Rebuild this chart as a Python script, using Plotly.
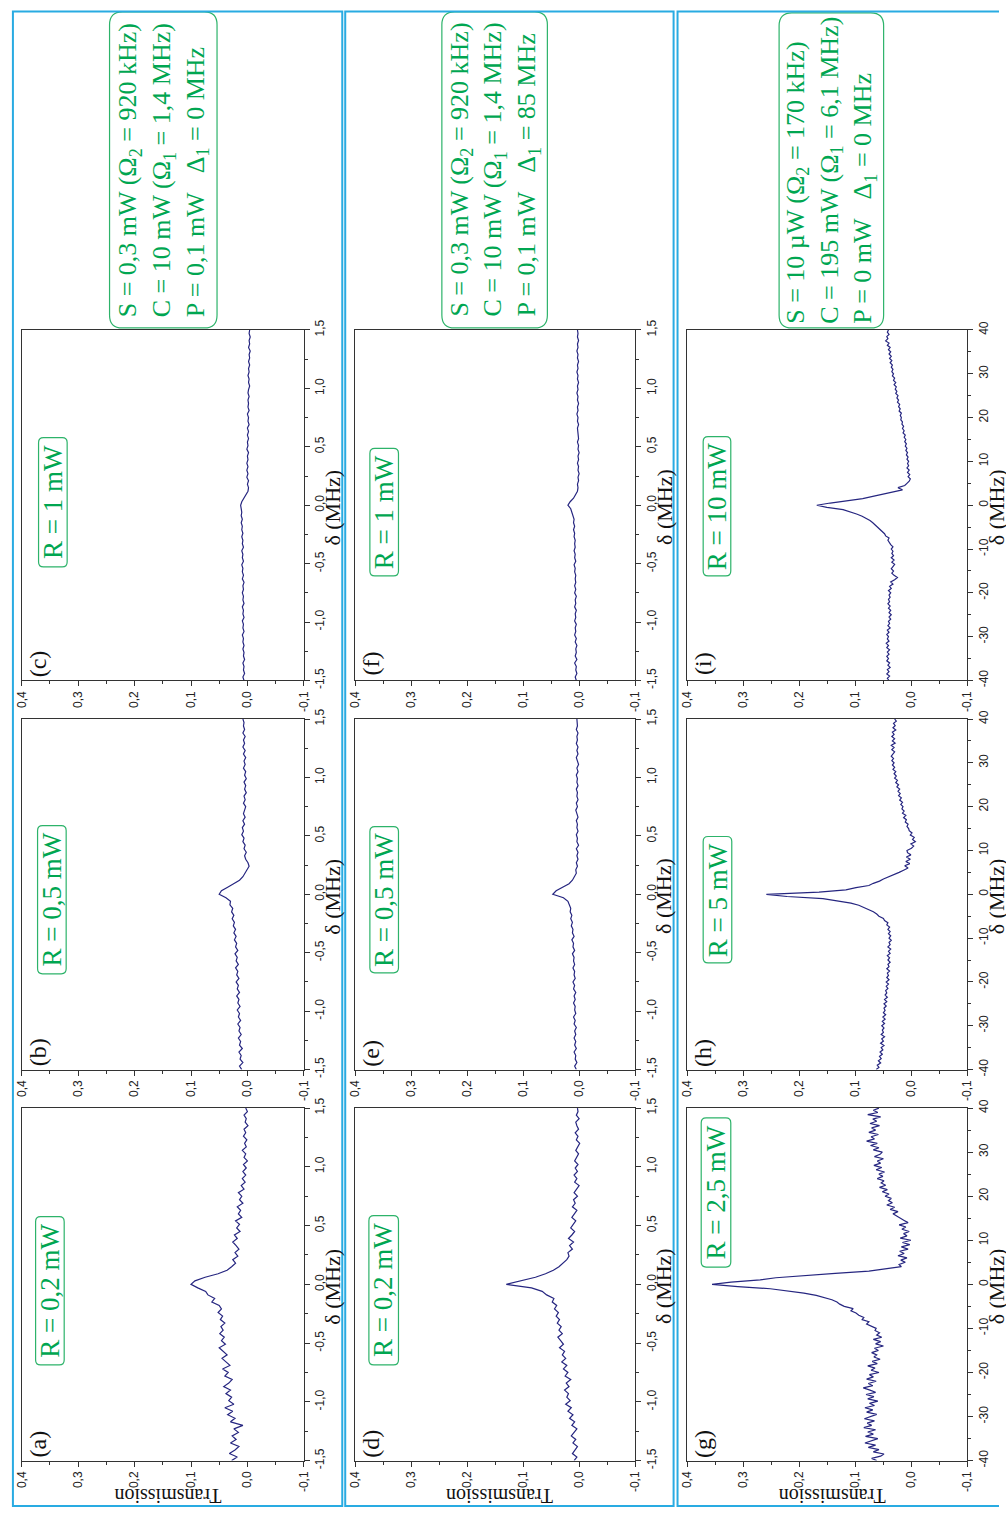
import plotly.graph_objects as go

W, H = 1006, 1517

# ---------------- data ----------------
# detuning grids (MHz): panels a-f use a 0.03 MHz step, panels g-i a 0.5 MHz step
delta_narrow = [round(-1.5 + 0.03 * i, 2) for i in range(101)]
delta_wide = [round(-40 + 0.5 * i, 1) for i in range(161)]

trans_a = [0.028, 0.018, 0.032, 0.022, 0.015, 0.030, 0.020, 0.027, 0.016, 0.024,
           0.008, 0.030, 0.022, 0.035, 0.026, 0.040, 0.024, 0.033, 0.028, 0.038,
           0.030, 0.042, 0.033, 0.027, 0.040, 0.034, 0.044, 0.031, 0.038, 0.045,
           0.036, 0.043, 0.050, 0.039, 0.046, 0.041, 0.049, 0.043, 0.047, 0.040,
           0.048, 0.044, 0.052, 0.046, 0.050, 0.063, 0.058, 0.070, 0.074, 0.088,
           0.100,
           0.093, 0.075, 0.052, 0.036, 0.028, 0.021, 0.026, 0.017, 0.022, 0.015,
           0.020, 0.026, 0.018, 0.023, 0.013, 0.019, 0.014, 0.021, 0.010, 0.016,
           0.012, 0.018, 0.008, 0.014, 0.010, 0.016, 0.006, 0.011, 0.004, 0.009,
           0.003, 0.008, 0.002, 0.007, 0.000, 0.006, 0.003, 0.009, 0.002, 0.005,
           0.001, 0.007, 0.003, 0.006, -0.001, 0.004, 0.002, 0.006, 0.000, 0.003]

trans_b = [0.010, 0.014, 0.008, 0.013, 0.011, 0.015, 0.009, 0.014, 0.012, 0.016,
           0.011, 0.015, 0.013, 0.017, 0.012, 0.016, 0.014, 0.018, 0.013, 0.017,
           0.015, 0.019, 0.014, 0.018, 0.016, 0.020, 0.015, 0.019, 0.017, 0.021,
           0.016, 0.020, 0.018, 0.022, 0.017, 0.021, 0.019, 0.023, 0.020, 0.024,
           0.021, 0.025, 0.023, 0.027, 0.024, 0.028, 0.026, 0.031, 0.030, 0.038,
           0.050,
           0.046, 0.035, 0.024, 0.014, 0.008, 0.004, 0.000, -0.003, -0.001, 0.003,
           0.005, 0.002, 0.006, 0.004, 0.008, 0.006, 0.010, 0.007, 0.009, 0.005,
           0.008, 0.004, 0.007, 0.005, 0.003, 0.007, 0.004, 0.006, 0.002, 0.005,
           0.003, 0.006, 0.002, 0.005, 0.003, 0.007, 0.004, 0.006, 0.003, 0.007,
           0.004, 0.008, 0.005, 0.007, 0.004, 0.008, 0.005, 0.007, 0.006, 0.008]

trans_c = [0.006, 0.008, 0.005, 0.007, 0.006, 0.008, 0.005, 0.007, 0.006, 0.008,
           0.006, 0.008, 0.007, 0.009, 0.006, 0.008, 0.007, 0.009, 0.006, 0.008,
           0.007, 0.009, 0.006, 0.008, 0.007, 0.009, 0.007, 0.008, 0.006, 0.009,
           0.007, 0.009, 0.008, 0.010, 0.007, 0.009, 0.008, 0.010, 0.007, 0.009,
           0.008, 0.010, 0.008, 0.010, 0.009, 0.011, 0.009, 0.011, 0.010, 0.011,
           0.012,
           0.010, 0.006, 0.002, -0.001, -0.002, 0.000, -0.002, 0.001, -0.001, 0.001,
           -0.001, 0.001, -0.001, 0.000, -0.002, 0.001, -0.001, 0.000, -0.002, 0.000,
           -0.002, 0.000, -0.003, -0.001, -0.002, 0.000, -0.003, -0.001, -0.002, -0.001,
           -0.003, -0.001, -0.002, -0.004, -0.002, -0.003, -0.001, -0.003, -0.002, -0.004,
           -0.002, -0.004, -0.003, -0.005, -0.002, -0.004, -0.003, -0.005, -0.003, -0.004]

trans_d = [0.009, 0.004, 0.012, 0.007, 0.003, 0.011, 0.006, 0.014, 0.009, 0.004,
           0.013, 0.008, 0.017, 0.011, 0.020, 0.014, 0.024, 0.016, 0.022, 0.019,
           0.026, 0.018, 0.023, 0.015, 0.025, 0.020, 0.028, 0.022, 0.031, 0.024,
           0.030, 0.026, 0.035, 0.028, 0.033, 0.038, 0.030, 0.036, 0.032, 0.039,
           0.035, 0.041, 0.037, 0.044, 0.040, 0.048, 0.045, 0.058, 0.066, 0.085,
           0.130,
           0.105, 0.078, 0.060, 0.046, 0.036, 0.029, 0.022, 0.018, 0.020, 0.012,
           0.017, 0.010, 0.019, 0.013, 0.008, 0.015, 0.011, 0.006, 0.013, 0.009,
           0.004, 0.012, 0.007, 0.010, 0.003, 0.009, 0.005, 0.000, 0.008, 0.004,
           0.009, 0.003, 0.007, 0.002, 0.008, 0.004, 0.001, 0.006, 0.003, -0.001,
           0.005, 0.002, 0.007, 0.001, 0.004, 0.006, 0.000, 0.005, 0.002, 0.003]

trans_e = [0.005, 0.008, 0.004, 0.007, 0.006, 0.009, 0.005, 0.008, 0.006, 0.009,
           0.006, 0.008, 0.005, 0.009, 0.007, 0.010, 0.006, 0.008, 0.007, 0.010,
           0.007, 0.009, 0.006, 0.010, 0.008, 0.011, 0.007, 0.009, 0.008, 0.011,
           0.008, 0.010, 0.009, 0.012, 0.008, 0.011, 0.010, 0.013, 0.009, 0.012,
           0.011, 0.014, 0.012, 0.015, 0.013, 0.016, 0.015, 0.018, 0.020, 0.028,
           0.047,
           0.041, 0.028, 0.018, 0.012, 0.008, 0.005, 0.006, 0.003, 0.005, 0.002,
           0.004, 0.002, 0.005, 0.001, 0.004, 0.003, 0.005, 0.002, 0.004, 0.003,
           0.005, 0.002, 0.004, 0.006, 0.003, 0.005, 0.002, 0.004, 0.003, 0.005,
           0.002, 0.004, 0.003, 0.005, 0.002, 0.004, 0.001, 0.003, 0.005, 0.002,
           0.004, 0.002, 0.005, 0.003, 0.004, 0.002, 0.005, 0.003, 0.004, 0.004]

trans_f = [0.005, 0.007, 0.004, 0.006, 0.005, 0.008, 0.004, 0.007, 0.005, 0.006,
           0.004, 0.007, 0.005, 0.008, 0.006, 0.007, 0.005, 0.008, 0.006, 0.007,
           0.005, 0.008, 0.006, 0.007, 0.005, 0.008, 0.006, 0.008, 0.006, 0.007,
           0.006, 0.008, 0.007, 0.009, 0.006, 0.008, 0.007, 0.009, 0.007, 0.008,
           0.007, 0.009, 0.008, 0.010, 0.008, 0.010, 0.009, 0.011, 0.012, 0.015,
           0.020,
           0.016, 0.010, 0.006, 0.003, 0.002, 0.003, 0.001, 0.002, 0.000, 0.002,
           0.001, 0.003, 0.001, 0.002, 0.000, 0.002, 0.001, 0.003, 0.001, 0.002,
           0.002, 0.003, 0.001, 0.003, 0.002, 0.004, 0.002, 0.003, 0.001, 0.003,
           0.002, 0.004, 0.002, 0.003, 0.001, 0.003, 0.002, 0.004, 0.002, 0.003,
           0.001, 0.003, 0.002, 0.004, 0.002, 0.003, 0.001, 0.003, 0.002, 0.003]

trans_g = [0.062, 0.071, 0.055, 0.049, 0.068, 0.058, 0.077, 0.064, 0.083, 0.070,
           0.060, 0.082, 0.068, 0.078, 0.064, 0.085, 0.071, 0.079, 0.066, 0.084,
           0.073, 0.062, 0.080, 0.069, 0.083, 0.066, 0.075, 0.060, 0.078, 0.067,
           0.081, 0.064, 0.074, 0.086, 0.069, 0.077, 0.063, 0.080, 0.068, 0.075,
           0.058, 0.072, 0.065, 0.078, 0.061, 0.070, 0.056, 0.067, 0.062, 0.071,
           0.059, 0.066, 0.050, 0.064, 0.055, 0.068, 0.053, 0.062, 0.057, 0.065,
           0.063, 0.072, 0.080, 0.076, 0.088, 0.085, 0.094, 0.099, 0.108, 0.104,
           0.120, 0.128, 0.133, 0.142, 0.156, 0.170, 0.192, 0.220, 0.252, 0.310,
           0.356,
           0.322, 0.270, 0.242, 0.195, 0.136, 0.076, 0.046, 0.018, 0.022, 0.011,
           0.019, 0.008, 0.024, 0.013, 0.021, 0.006, 0.018, 0.003, 0.016, 0.001,
           0.020, 0.008, 0.014, 0.004, 0.017, 0.010, 0.022, 0.006, 0.013, 0.020,
           0.027, 0.033, 0.024, 0.038, 0.030, 0.044, 0.034, 0.041, 0.036, 0.047,
           0.040, 0.052, 0.043, 0.057, 0.046, 0.054, 0.049, 0.061, 0.051, 0.058,
           0.048, 0.063, 0.053, 0.067, 0.055, 0.061, 0.050, 0.066, 0.056, 0.052,
           0.068, 0.058, 0.073, 0.061, 0.080, 0.066, 0.072, 0.059, 0.076, 0.064,
           0.071, 0.057, 0.074, 0.062, 0.069, 0.055, 0.078, 0.060, 0.068, 0.058]

trans_h = [0.063, 0.058, 0.061, 0.055, 0.059, 0.054, 0.057, 0.052, 0.056, 0.051,
           0.054, 0.049, 0.055, 0.050, 0.053, 0.048, 0.054, 0.050, 0.052, 0.049,
           0.053, 0.048, 0.052, 0.047, 0.051, 0.046, 0.050, 0.047, 0.049, 0.045,
           0.049, 0.044, 0.048, 0.043, 0.047, 0.044, 0.046, 0.042, 0.045, 0.041,
           0.045, 0.040, 0.044, 0.041, 0.043, 0.039, 0.044, 0.040, 0.042, 0.038,
           0.042, 0.039, 0.043, 0.038, 0.041, 0.037, 0.042, 0.038, 0.040, 0.036,
           0.040, 0.037, 0.041, 0.038, 0.042, 0.039, 0.044, 0.042, 0.048, 0.050,
           0.058, 0.062, 0.068, 0.076, 0.084, 0.094, 0.108, 0.134, 0.158, 0.222,
           0.259,
           0.165, 0.117, 0.099, 0.076, 0.068, 0.057, 0.050, 0.040, 0.031, 0.022,
           0.014, 0.006, 0.012, 0.003, 0.010, 0.002, 0.009, 0.001, 0.007, 0.008,
           0.000, -0.004, 0.001, -0.007, -0.002, -0.005, 0.002, -0.001, 0.004, 0.005,
           0.008, 0.006, 0.011, 0.009, 0.014, 0.010, 0.016, 0.013, 0.017, 0.015,
           0.019, 0.016, 0.021, 0.018, 0.023, 0.020, 0.024, 0.021, 0.026, 0.023,
           0.028, 0.025, 0.030, 0.027, 0.031, 0.028, 0.033, 0.030, 0.034, 0.031,
           0.035, 0.032, 0.036, 0.033, 0.030, 0.035, 0.031, 0.036, 0.029, 0.034,
           0.030, 0.035, 0.031, 0.034, 0.028, 0.033, 0.029, 0.032, 0.027, 0.030]

trans_i = [0.040, 0.043, 0.039, 0.044, 0.040, 0.043, 0.038, 0.042, 0.039, 0.044,
           0.041, 0.044, 0.040, 0.043, 0.039, 0.044, 0.041, 0.045, 0.040, 0.043,
           0.041, 0.044, 0.040, 0.043, 0.038, 0.042, 0.039, 0.041, 0.037, 0.040,
           0.036, 0.040, 0.037, 0.041, 0.038, 0.042, 0.039, 0.041, 0.038, 0.040,
           0.037, 0.041, 0.036, 0.039, 0.033, 0.037, 0.030, 0.025, 0.031, 0.035,
           0.032, 0.036, 0.033, 0.030, 0.035, 0.031, 0.036, 0.032, 0.035, 0.033,
           0.036, 0.033, 0.037, 0.039, 0.042, 0.040, 0.046, 0.048, 0.052, 0.056,
           0.060, 0.064, 0.069, 0.074, 0.081, 0.088, 0.098, 0.110, 0.122, 0.151,
           0.169,
           0.145, 0.116, 0.087, 0.069, 0.052, 0.034, 0.016, 0.024, 0.012, 0.008,
           0.004, 0.002, 0.006, 0.003, 0.007, 0.004, 0.008, 0.005, 0.007, 0.005,
           0.008, 0.006, 0.009, 0.007, 0.010, 0.008, 0.011, 0.009, 0.012, 0.010,
           0.013, 0.011, 0.015, 0.013, 0.016, 0.014, 0.017, 0.016, 0.019, 0.018,
           0.020, 0.018, 0.022, 0.020, 0.023, 0.021, 0.025, 0.023, 0.026, 0.024,
           0.028, 0.026, 0.029, 0.027, 0.031, 0.028, 0.032, 0.030, 0.034, 0.032,
           0.035, 0.033, 0.036, 0.034, 0.038, 0.035, 0.039, 0.036, 0.040, 0.037,
           0.041, 0.038, 0.043, 0.040, 0.046, 0.042, 0.044, 0.040, 0.043, 0.041]

panel_letters = ["a", "b", "c", "d", "e", "f", "g", "h", "i"]
r_labels = ["R = 0,2 mW", "R = 0,5 mW", "R = 1 mW",
            "R = 0,2 mW", "R = 0,5 mW", "R = 1 mW",
            "R = 2,5 mW", "R = 5 mW", "R = 10 mW"]
series = [trans_a, trans_b, trans_c, trans_d, trans_e, trans_f, trans_g, trans_h, trans_i]
param_texts = [
    "S = 0,3 mW (Ω<sub>2</sub> = 920 kHz)<br>C = 10 mW (Ω<sub>1</sub> = 1,4 MHz)<br>P = 0,1 mW \u00a0 Δ<sub>1</sub> = 0 MHz",
    "S = 0,3 mW (Ω<sub>2</sub> = 920 kHz)<br>C = 10 mW (Ω<sub>1</sub> = 1,4 MHz)<br>P = 0,1 mW \u00a0 Δ<sub>1</sub> = 85 MHz",
    "S = 10 µW (Ω<sub>2</sub> = 170 kHz)<br>C = 195 mW (Ω<sub>1</sub> = 6,1 MHz)<br>P = 0 mW \u00a0 Δ<sub>1</sub> = 0 MHz",
]
trans_ticks = [0.4, 0.3, 0.2, 0.1, 0.0, -0.1]
trans_ticktext = ["0,4", "0,3", "0,2", "0,1", "0,0", "-0,1"]
narrow_ticks = [-1.5, -1.0, -0.5, 0.0, 0.5, 1.0, 1.5]
narrow_ticktext = ["-1,5", "-1,0", "-0,5", "0,0", "0,5", "1,0", "1,5"]
wide_ticks = [-40, -30, -20, -10, 0, 10, 20, 30, 40]
wide_ticktext = ["-40", "-30", "-20", "-10", "0", "10", "20", "30", "40"]

# ---------------- layout helpers ----------------
def px(xp):
    return xp / W

def py(yp):
    return 1 - yp / H

COL_X = [(15, 301), (353, 637), (690, 974)]          # pixel extents of panel columns
ROW_Y = [(1112, 1469), (718, 1073), (324, 679)]      # bottom row, middle row, top row
R_BOX = [(29, 1222, 58, 1372), (31, 826, 60, 976), (32, 433, 61, 564),
         (367, 1221, 397, 1372), (368, 827, 397, 975), (368, 444, 397, 573),
         (704, 1122, 734, 1273), (706, 837, 735, 965), (706, 432, 734, 573)]
PARAM_BOX = [(104, 2, 213, 322), (441, 2, 548, 322), (783, 3, 889, 322)]

SERIF = "Liberation Serif, Times New Roman, serif"
SANS = "Liberation Sans, Arial, sans-serif"
GREEN_TXT = "#00A651"
GREEN_BOX = "#2DB36A"
FRAME = "#29ABE2"
LINE = "#262680"

def rrect(x0, y0, x1, y1, r):
    rx, ry = r / W, r / H
    a, b, c, d = px(x0), py(y0), px(x1), py(y1)   # b > d (paper y)
    return (f"M {a+rx},{b} L {c-rx},{b} Q {c},{b} {c},{b-ry} "
            f"L {c},{d+ry} Q {c},{d} {c-rx},{d} L {a+rx},{d} "
            f"Q {a},{d} {a},{d+ry} L {a},{b-ry} Q {a},{b} {a+rx},{b} Z")

fig = go.Figure()
annotations = []
shapes = []
layout_axes = {}

for k in range(9):
    col, row = k // 3, k % 3
    sfx = "" if k == 0 else str(k + 1)
    deltas = delta_wide if col == 2 else delta_narrow
    fig.add_trace(go.Scatter(x=series[k], y=deltas, mode="lines",
                             line=dict(color=LINE, width=1.2),
                             xaxis="x" + sfx, yaxis="y" + sfx, showlegend=False,
                             hoverinfo="skip"))
    x0, x1 = COL_X[col]
    ytop, ybot = ROW_Y[row]
    layout_axes["xaxis" + sfx] = dict(
        domain=[px(x0), px(x1)], anchor="y" + sfx, range=[0.4, -0.1],
        tickmode="array", tickvals=trans_ticks, ticktext=trans_ticktext,
        tickangle=-90, tickfont=dict(family=SANS, size=12, color="#222"),
        ticks="outside", ticklen=5, tickwidth=1, tickcolor="#333",
        minor=dict(tickvals=[0.35, 0.25, 0.15, 0.05, -0.05], ticks="outside",
                   ticklen=3, tickcolor="#333"),
        showline=True, linecolor="#333", linewidth=1, mirror=True,
        showgrid=False, zeroline=False, fixedrange=True)
    if col == 2:
        yt, ytt, ymin = wide_ticks, wide_ticktext, [-35, -25, -15, -5, 5, 15, 25, 35]
        yr = [-40, 40]
    else:
        yt, ytt, ymin = narrow_ticks, narrow_ticktext, [-1.25, -0.75, -0.25, 0.25, 0.75, 1.25]
        yr = [-1.5, 1.5]
    layout_axes["yaxis" + sfx] = dict(
        domain=[py(ybot), py(ytop)], anchor="x" + sfx, side="right", range=yr,
        tickmode="array", tickvals=yt, ticktext=ytt, tickangle=-90,
        tickfont=dict(family=SANS, size=12, color="#222"),
        ticks="outside", ticklen=5, tickwidth=1, tickcolor="#333",
        minor=dict(tickvals=ymin, ticks="outside", ticklen=3, tickcolor="#333"),
        showline=True, linecolor="#333", linewidth=1, mirror=True,
        showgrid=False, zeroline=False, fixedrange=True)

    # panel letter
    annotations.append(dict(text=f"({panel_letters[k]})", x=px(x0 + 16), y=py(ybot - 17),
                            xref="paper", yref="paper", showarrow=False, textangle=-90,
                            xanchor="center", yanchor="middle",
                            font=dict(family=SERIF, size=24, color="#111")))
    # R label with rounded box
    bx0, by0, bx1, by1 = R_BOX[k]
    shapes.append(dict(type="path", path=rrect(bx0, by0, bx1, by1, 5), xref="paper",
                       yref="paper", line=dict(color=GREEN_BOX, width=1.2),
                       fillcolor="rgba(0,0,0,0)"))
    annotations.append(dict(text=r_labels[k], x=px((bx0 + bx1) / 2), y=py((by0 + by1) / 2),
                            xref="paper", yref="paper", showarrow=False, textangle=-90,
                            xanchor="center", yanchor="middle",
                            font=dict(family=SERIF, size=27, color=GREEN_TXT)))
    # delta axis title
    annotations.append(dict(text="δ (MHz)", x=px(x1 + 29), y=py((ytop + ybot) / 2 + 2),
                            xref="paper", yref="paper", showarrow=False, textangle=-90,
                            xanchor="center", yanchor="middle",
                            font=dict(family=SERIF, size=22, color="#111")))
    if row == 0:
        annotations.append(dict(text="Transmission", x=px((x0 + x1) / 2 + 5), y=py(1505),
                                xref="paper", yref="paper", showarrow=False, textangle=180,
                                xanchor="center", yanchor="middle",
                                font=dict(family=SERIF, size=20, color="#111")))

for c in range(3):
    bx0, by0, bx1, by1 = PARAM_BOX[c]
    shapes.append(dict(type="path", path=rrect(bx0, by0, bx1, by1, 13), xref="paper",
                       yref="paper", line=dict(color=GREEN_BOX, width=1.2),
                       fillcolor="rgba(0,0,0,0)"))
    annotations.append(dict(text=param_texts[c], x=px((bx0 + bx1) / 2), y=py((by0 + by1) / 2),
                            xref="paper", yref="paper", showarrow=False, textangle=-90,
                            xanchor="center", yanchor="middle", align="left",
                            font=dict(family=SERIF, size=26, color=GREEN_TXT)))

# light-blue frames around each column (the third one runs off the right edge)
for (fx0, fx1) in [(6, 340), (343, 676)]:
    shapes.append(dict(type="rect", xref="paper", yref="paper",
                       x0=px(fx0), x1=px(fx1), y0=py(1515), y1=py(1.5),
                       line=dict(color=FRAME, width=2), fillcolor="rgba(0,0,0,0)"))
shapes.append(dict(type="path", xref="paper", yref="paper",
                   path=f"M {px(1006)},{py(1.5)} L {px(680)},{py(1.5)} L {px(680)},{py(1515)} "
                        f"L {px(1006)},{py(1515)}",
                   line=dict(color=FRAME, width=2), fillcolor="rgba(0,0,0,0)"))

fig.update_layout(width=W, height=H, margin=dict(l=0, r=0, t=0, b=0),
                  paper_bgcolor="white", plot_bgcolor="white",
                  annotations=annotations, shapes=shapes, **layout_axes)

fig.write_html("out.html", config={"displayModeBar": False, "staticPlot": True},
               post_script="document.documentElement.style.margin='0';"
                           "document.body.style.margin='0';"
                           "document.body.style.padding='0';"
                           "document.documentElement.style.overflow='hidden';"
                           "document.body.style.overflow='hidden';"
                           "var gd=document.getElementsByClassName('plotly-graph-div')[0];"
                           "gd.style.position='fixed';gd.style.left='0px';gd.style.top='0px';")
